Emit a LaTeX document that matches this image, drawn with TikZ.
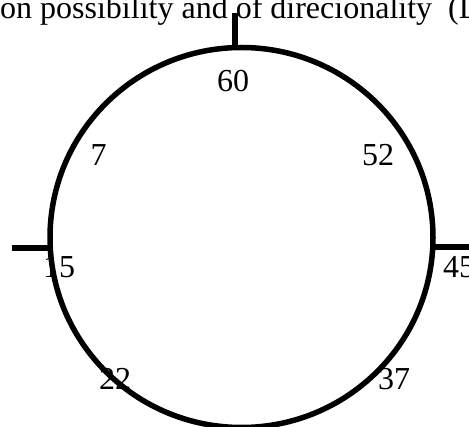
\documentclass[tikz,border=0pt]{standalone}
\usepackage{fontspec}
\setmainfont{Liberation Serif}
\begin{document}
\begin{tikzpicture}[
    x=1pt, y=-1pt,
    every node/.style={font=\fontsize{32}{38}\selectfont, inner sep=0pt},
    deg/.style={anchor=base},
    rim/.style={draw, line width=5.5pt},
    tick/.style={line width=5.5pt}
]
\useasboundingbox (0,0) rectangle (469,427);

% caption line, cut at the page edge
\node[anchor=base west] (caption) at (0,19) {on possibility and of direcionality\ \ (L};

% marks round the dial
\node[deg] (m60) at (233,92) {60};
\node[deg] (m52) at (378,166) {52};
\node[deg] (m7) at (98.5,166) {7};
\node[deg] (m15) at (59,278) {15};
\node[deg] (m45) at (459,278) {45};
\node[deg] (m22) at (115,390) {22};
\node[deg] (m37) at (394,390) {37};

% dial
\coordinate (hub) at (241.5,237.5);
\draw[rim] (hub) ellipse [x radius=191.5pt, y radius=190pt];

\draw[tick] (235,13) -- (235,47);
\draw[tick] (12,248) -- (50,248);
\draw[tick] (433,247) -- (469,247);

\end{tikzpicture}
\end{document}
